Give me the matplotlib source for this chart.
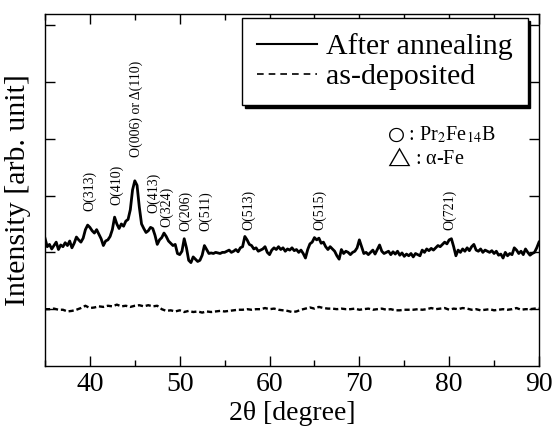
import matplotlib
matplotlib.use("Agg")
import matplotlib.pyplot as plt
import numpy as np
from matplotlib.lines import Line2D
from matplotlib.ticker import MultipleLocator

plt.rcParams['font.family'] = ['Liberation Serif', 'DejaVu Sans']
plt.rcParams['mathtext.fontset'] = 'stix'

# after annealing, sampled every 0.25 deg from 35 to 90
annealed_x = np.arange(35.0, 90.01, 0.25)
annealed_y = [
    2.25, 2.10, 2.14, 2.06,  2.12, 2.18, 2.05, 2.13,  2.10, 2.17, 2.12, 2.20,
    2.08, 2.16, 2.27, 2.22,  2.18, 2.25, 2.40, 2.48,  2.44, 2.38, 2.34, 2.40,
    2.32, 2.24, 2.12, 2.20,  2.22, 2.28, 2.40, 2.62,  2.50, 2.42, 2.50, 2.46,
    2.55, 2.58, 2.75, 3.10,  3.26, 3.18, 2.80, 2.50,  2.42, 2.35, 2.38, 2.44,
    2.42, 2.30, 2.14, 2.22,  2.26, 2.34, 2.28, 2.20,  2.16, 2.12, 2.14, 1.98,
    1.96, 2.02, 2.24, 2.08,  1.86, 1.82, 1.92, 1.88,  1.84, 1.86, 1.95, 2.12,
    2.05, 1.98, 1.99, 1.98,  2.00, 1.99, 1.98, 2.00,  2.00, 2.02, 2.04, 2.00,
    2.02, 2.05, 2.01, 2.08,  2.10, 2.28, 2.22, 2.14,  2.12, 2.06, 2.08, 2.02,
    2.04, 2.06, 2.10, 2.00,  1.96, 2.04, 2.08, 2.05,  2.10, 2.05, 2.08, 2.02,
    2.06, 2.04, 2.08, 2.03,  2.05, 2.00, 2.04, 1.98,  1.90, 2.05, 2.15, 2.18,
    2.26, 2.22, 2.25, 2.16,  2.18, 2.10, 2.05, 2.10,  2.06, 2.02, 1.94, 1.88,
    2.05, 1.98, 2.02, 2.00,  1.96, 2.00, 2.02, 2.08,  2.22, 2.10, 1.98, 2.00,
    1.96, 2.00, 2.04, 1.97,  2.05, 2.13, 2.02, 1.98,  2.00, 2.02, 1.96, 2.01,
    1.97, 2.02, 1.95, 1.99,  1.93, 1.97, 1.94, 1.98,  1.92, 1.98, 1.96, 1.94,
    2.04, 2.00, 2.06, 2.03,  2.07, 2.04, 2.08, 2.12,  2.10, 2.14, 2.18, 2.15,
    2.22, 2.24, 2.10, 1.94,  2.04, 2.00, 2.06, 2.02,  2.08, 2.03, 2.10, 2.14,
    2.04, 2.02, 2.06, 2.00,  2.04, 2.02, 2.00, 2.03,  1.98, 2.02, 1.95, 1.97,
    1.90, 2.00, 1.94, 1.98,  1.96, 2.08, 2.04, 1.98,  2.02, 1.96, 2.06, 2.00,
    1.95, 1.98, 2.00, 2.08,  2.18,
]

# as-deposited, sampled every 0.5 deg
deposited_x = np.arange(35.0, 90.01, 0.5)
deposited_y = [
    1.00, 1.00, 1.01, 0.99, 0.99, 0.96, 0.97, 0.99, 1.02, 1.06,
    1.02, 1.03, 1.05, 1.04, 1.06, 1.05, 1.08, 1.05, 1.06, 1.04,
    1.06, 1.07, 1.05, 1.07, 1.05, 1.06, 1.00, 0.97, 0.98, 0.96,
    0.98, 0.95, 0.97, 0.95, 0.96, 0.94, 0.96, 0.95, 0.96, 0.97,
    0.96, 0.97, 0.98, 0.99, 0.99, 1.00, 0.99, 1.00, 1.00, 1.02,
    1.00, 1.01, 0.99, 0.98, 0.97, 0.95, 0.96, 0.99, 1.01, 1.03,
    1.01, 1.04, 1.02, 1.01, 1.01, 1.00, 1.01, 1.00, 1.00, 1.01,
    0.99, 1.00, 1.01, 0.99, 1.00, 1.01, 0.99, 1.00, 0.98, 0.98,
    0.99, 0.99, 0.99, 1.00, 0.99, 1.00, 1.02, 1.00, 1.01, 1.02,
    0.99, 1.01, 1.00, 1.02, 1.01, 0.99, 1.00, 0.98, 0.99, 1.00,
    0.98, 0.99, 1.00, 0.99, 1.00, 1.02, 0.99, 1.00, 1.00, 1.01,
    1.01,
]

peak_labels = ['O(313)', 'O(410)', 'O(006) or Δ(110)', 'O(413)', 'O(324)',
               'O(206)', 'O(511)', 'O(513)', 'O(515)', 'O(721)']
peak_x = [40.0, 43.0, 45.2, 47.05, 48.5, 50.65, 52.9, 57.7, 65.55, 80.1]
peak_label_y = [2.72, 2.83, 3.68, 2.69, 2.44, 2.37, 2.37, 2.39, 2.39, 2.39]

fig = plt.figure(figsize=(5.54, 4.34), dpi=100)
ax = fig.add_axes([0.0812, 0.1567, 0.8917, 0.8103])

ax.plot(annealed_x, annealed_y, color='black', lw=2.0)
ax.plot(deposited_x, deposited_y, color='black', lw=1.7, linestyle=(0, (2.2, 1.2)))

for lab, px, py in zip(peak_labels, peak_x, peak_label_y):
    ax.text(px, py, lab, rotation=90, ha='center', va='bottom', fontsize=10)

ax.text(0.692, 0.643, r'$\bigcirc$ : Pr$_2$Fe$_{14}$B', transform=ax.transAxes,
        fontsize=14.5, va='baseline')
ax.text(0.692, 0.576, r'$\bigtriangleup$ : α-Fe', transform=ax.transAxes,
        fontsize=14.5, va='baseline')

ax.set_xlim(35, 90)
ax.set_ylim(0, 6.19)
ax.xaxis.set_major_locator(MultipleLocator(10))
ax.xaxis.set_minor_locator(MultipleLocator(5))
ax.set_yticks([1, 2, 3, 4, 5, 6])
ax.set_yticklabels([])
ax.tick_params(which='both', direction='in', top=True, right=True, width=1.0)
ax.tick_params(which='major', length=7.5, labelsize=20, pad=4)
ax.tick_params(which='minor', length=4)
for sp in ax.spines.values():
    sp.set_linewidth(1.0)

ax.set_xlabel('2θ [degree]', fontsize=20, labelpad=3)
ax.set_ylabel('Intensity [arb. unit]', fontsize=21.5, labelpad=6)

handles = [Line2D([], [], color='black', lw=1.5),
           Line2D([], [], color='black', lw=1.2, linestyle=(0, (4, 3)))]
leg = ax.legend(handles, ['After annealing', 'as-deposited'], loc='upper right',
                bbox_to_anchor=(0.977, 0.989), borderaxespad=0, fontsize=21.5,
                handlelength=2.0, handletextpad=0.3, labelspacing=0.1,
                borderpad=0.5, fancybox=False, framealpha=1,
                shadow={'color': 'black', 'alpha': 1})
leg.get_frame().set_edgecolor('black')
leg.get_frame().set_linewidth(1.0)

fig.savefig('out.png', dpi=100)
